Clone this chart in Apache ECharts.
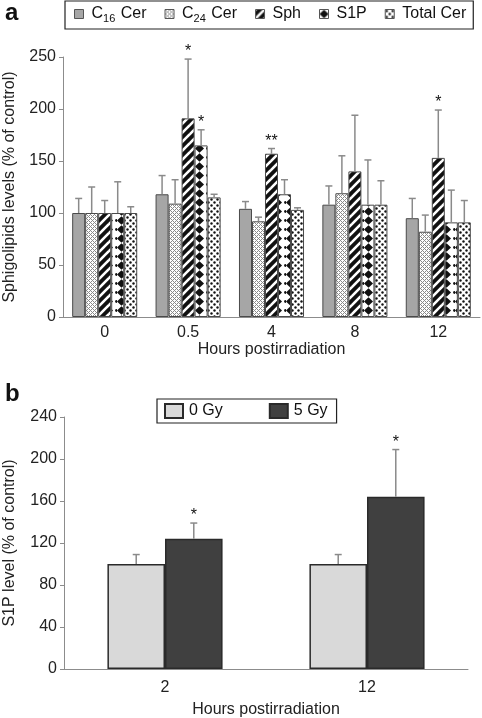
<!DOCTYPE html>
<html><head><meta charset="utf-8">
<script src="https://cdn.jsdelivr.net/npm/echarts@6/dist/echarts.min.js"></script>
<style>html,body{margin:0;padding:0;background:#fff}#c{width:482px;height:718px}</style>
</head><body><div id="c"></div>
<script>
// ---------- Panel a data ----------
const categoriesA = ['0', '0.5', '4', '8', '12'];
const seriesNamesA = ['C16 Cer', 'C24 Cer', 'Sph', 'S1P', 'Total Cer'];
const c16 = [100, 118, 104, 108, 95];
const c16Err = [114, 136, 111, 126, 114];
const c24 = [100, 109, 92, 119, 82];
const c24Err = [125, 132, 96, 155, 98];
const sph = [100, 191, 157, 140, 153];
const sphErr = [112, 248, 162, 194, 199];
const s1p = [100, 165, 118, 108, 91];
const s1pErr = [130, 180, 132, 151, 122];
const totalCer = [100, 115, 103, 108, 91];
const totalCerErr = [106, 118, 105, 131, 112];
const sphSig = ['', '*', '**', '', '*'];
const s1pSig = ['', '*', '', '', ''];
const yTicksA = [0, 50, 100, 150, 200, 250];

// ---------- Panel b data ----------
const categoriesB = ['2', '12'];
const seriesNamesB = ['0 Gy', '5 Gy'];
const gy0 = [100, 100];
const gy0Err = [109, 109];
const gy5 = [124, 164];
const gy5Err = [139, 209];
const gy5Sig = ['*', '*'];
const yTicksB = [0, 40, 80, 120, 160, 200, 240];

const FONT = '"Liberation Sans", Arial, sans-serif';

function pat(w, h, draw) {
  const cv = document.createElement('canvas');
  cv.width = w; cv.height = h;
  const ctx = cv.getContext('2d');
  draw(ctx, w, h);
  return { image: cv, repeat: 'repeat' };
}
const patC24 = pat(4, 4, (g) => {
  g.fillStyle = '#fff'; g.fillRect(0, 0, 4, 4);
  g.fillStyle = '#8a8a8a';
  g.fillRect(0, 0, 1, 1); g.fillRect(2, 2, 1, 1); g.fillRect(1, 1, 1, 1); g.fillRect(3, 3, 1, 1);
  g.fillRect(3, 1, 1, 1); g.fillRect(1, 3, 1, 1);
});
const patSph = pat(9, 9, (g) => {
  g.fillStyle = '#111'; g.fillRect(0, 0, 9, 9);
  g.strokeStyle = '#fff'; g.lineWidth = 2.6;
  for (let k = -9; k <= 18; k += 9) {
    g.beginPath(); g.moveTo(k - 1, 10); g.lineTo(k + 10, -1); g.stroke();
  }
});
const patS1P = pat(13, 9, (g) => {
  g.fillStyle = '#fff'; g.fillRect(0, 0, 13, 9);
  g.fillStyle = '#111';
  g.beginPath(); g.moveTo(4.5, 0.3); g.lineTo(9, 4.5); g.lineTo(4.5, 8.7); g.lineTo(0, 4.5); g.closePath(); g.fill();
  g.beginPath(); g.arc(12.5, 4.5, 1.4, 0, Math.PI * 2); g.fill();
});
const patTotal = pat(6, 6, (g) => {
  g.fillStyle = '#fff'; g.fillRect(0, 0, 6, 6);
  g.fillStyle = '#111';
  g.beginPath(); g.arc(1.5, 1.5, 1.2, 0, Math.PI * 2); g.fill();
  g.beginPath(); g.arc(4.5, 4.5, 1.2, 0, Math.PI * 2); g.fill();
});

const valsA = [c16, c24, sph, s1p, totalCer];
const errsA = [c16Err, c24Err, sphErr, s1pErr, totalCerErr];
const sigsA = [null, null, sphSig, s1pSig, null];
const fillsA = ['#a6a6a6', patC24, patSph, patS1P, patTotal];
const gapA = 0.22;

const itemsA = [];
valsA.forEach((arr, s) => arr.forEach((v, i) => {
  itemsA.push({ cat: i, s: s, v: v, e: errsA[s][i], sig: sigsA[s] ? sigsA[s][i] : '' });
}));
const itemsB = [];
[[gy0, gy0Err, null], [gy5, gy5Err, gy5Sig]].forEach((t, s) => t[0].forEach((v, i) => {
  itemsB.push({ cat: i, s: s, v: v, e: t[1][i], sig: t[2] ? t[2][i] : '' });
}));

function errRender(items, n, gap) {
  return function (params, api) {
    const it = items[params.dataIndex];
    const c = api.coord([it.cat, it.v]);
    const t = api.coord([it.cat, it.e]);
    const band = api.size([1, 0])[0];
    const group = band * (1 - gap);
    const bw = group / n;
    const x = c[0] - group / 2 + bw * (it.s + 0.5);
    const ch = [
      { type: 'line', shape: { x1: x, y1: c[1], x2: x, y2: t[1] }, style: { stroke: '#8a8a8a', lineWidth: 1.5 } },
      { type: 'line', shape: { x1: x - 3.5, y1: t[1], x2: x + 3.5, y2: t[1] }, style: { stroke: '#8a8a8a', lineWidth: 1.5 } }
    ];
    if (it.sig) {
      ch.push({ type: 'text', style: { text: it.sig, x: x, y: t[1] + 1, align: 'center', verticalAlign: 'bottom', font: '16px ' + FONT, fill: '#111' } });
    }
    return { type: 'group', children: ch };
  };
}

const axisLine = { lineStyle: { color: '#8c8c8c', width: 1 } };
const axisLabel = { color: '#222', fontSize: 16, fontFamily: FONT };

const chart = echarts.init(document.getElementById('c'), null, { renderer: 'canvas' });
const seriesA = valsA.map((arr, s) => ({
  type: 'bar', name: seriesNamesA[s], xAxisIndex: 0, yAxisIndex: 0, data: arr,
  barGap: '0%', barCategoryGap: (gapA * 100) + '%',
  itemStyle: { color: fillsA[s], borderColor: '#4a4a4a', borderWidth: 1 }
}));
const seriesB = [
  { type: 'bar', name: seriesNamesB[0], xAxisIndex: 1, yAxisIndex: 1, data: gy0, barGap: '0%', barCategoryGap: '43%',
    itemStyle: { color: '#d9d9d9', borderColor: '#2a2a2a', borderWidth: 1.5 } },
  { type: 'bar', name: seriesNamesB[1], xAxisIndex: 1, yAxisIndex: 1, data: gy5, barGap: '0%', barCategoryGap: '43%',
    itemStyle: { color: '#404040', borderColor: '#2a2a2a', borderWidth: 1.5 } }
];

chart.setOption({
  animation: false,
  backgroundColor: '#fff',
  title: [
    { text: 'a', left: 0, top: -4, textStyle: { fontSize: 24, fontWeight: 'bold', fontFamily: FONT, color: '#111' } },
    { text: 'b', left: 0, top: 377, textStyle: { fontSize: 24, fontWeight: 'bold', fontFamily: FONT, color: '#111' } }
  ],
  legend: [
    { data: seriesNamesA, left: 65, top: 1, width: 440, padding: [5, 7, 5, 9], itemGap: 18, icon: 'rect',
      itemWidth: 9, itemHeight: 9, itemStyle: { borderColor: '#555', borderWidth: 1 }, borderColor: '#222', borderWidth: 1.2,
      textStyle: { fontSize: 16, fontFamily: FONT, color: '#111', padding: [0, 0, 0, 3],
        rich: { sub: { fontSize: 11, fontFamily: FONT, color: '#111', padding: [9, 1, 0, 0] }, n: { fontSize: 16, fontFamily: FONT, color: '#111' } } },
      formatter: (nm) => nm === 'C16 Cer' ? '{n|C}{sub|16}{n| Cer}' : nm === 'C24 Cer' ? '{n|C}{sub|24}{n| Cer}' : nm },
    { data: seriesNamesB, left: 157, top: 399, padding: [4, 9, 4, 7], itemGap: 46, icon: 'rect',
      itemWidth: 18, itemHeight: 14, borderColor: '#222', borderWidth: 1.2,
      textStyle: { fontSize: 16, fontFamily: FONT, color: '#111', padding: [0, 0, 0, 1] } }
  ],
  grid: [
    { left: 63, top: 57, right: 2, height: 260, containLabel: false, outerBoundsMode: 'none' },
    { left: 64, top: 417, right: 14, height: 252, containLabel: false, outerBoundsMode: 'none' }
  ],
  xAxis: [
    { type: 'category', gridIndex: 0, data: categoriesA, axisLine: axisLine,
      axisTick: { length: 4, lineStyle: { color: '#8c8c8c' } }, axisLabel: Object.assign({ margin: 8 }, axisLabel),
      name: 'Hours postirradiation', nameLocation: 'middle', nameGap: 25, nameTextStyle: { fontSize: 16, fontFamily: FONT, color: '#222' } },
    { type: 'category', gridIndex: 1, data: categoriesB, axisLine: axisLine,
      axisTick: { length: 4, lineStyle: { color: '#8c8c8c' } }, axisLabel: Object.assign({ margin: 11 }, axisLabel),
      name: 'Hours postirradiation', nameLocation: 'middle', nameGap: 33, nameTextStyle: { fontSize: 16, fontFamily: FONT, color: '#222' } }
  ],
  yAxis: [
    { type: 'value', gridIndex: 0, min: yTicksA[0], max: yTicksA[yTicksA.length - 1], interval: yTicksA[1] - yTicksA[0],
      axisLine: Object.assign({ show: true }, axisLine), axisTick: { show: true, length: 4, lineStyle: { color: '#8c8c8c' } },
      splitLine: { show: false }, axisLabel: Object.assign({ margin: 7 }, axisLabel),
      name: 'Sphigolipids levels (% of control)', nameLocation: 'middle', nameGap: 45, nameTextStyle: { fontSize: 16, fontFamily: FONT, color: '#222' } },
    { type: 'value', gridIndex: 1, min: yTicksB[0], max: yTicksB[yTicksB.length - 1], interval: yTicksB[1] - yTicksB[0],
      axisLine: Object.assign({ show: true }, axisLine), axisTick: { show: true, length: 4, lineStyle: { color: '#8c8c8c' } },
      splitLine: { show: false }, axisLabel: Object.assign({ margin: 7 }, axisLabel),
      name: 'S1P level (% of control)', nameLocation: 'middle', nameGap: 46, nameTextStyle: { fontSize: 16, fontFamily: FONT, color: '#222' } }
  ],
  series: seriesA.concat(seriesB).concat([
    { type: 'custom', xAxisIndex: 0, yAxisIndex: 0, renderItem: errRender(itemsA, 5, gapA),
      data: itemsA.map(it => [it.cat, it.e]), z: 5, silent: true },
    { type: 'custom', xAxisIndex: 1, yAxisIndex: 1, renderItem: errRender(itemsB, 2, 0.43),
      data: itemsB.map(it => [it.cat, it.e]), z: 5, silent: true }
  ])
});
</script></body></html>
